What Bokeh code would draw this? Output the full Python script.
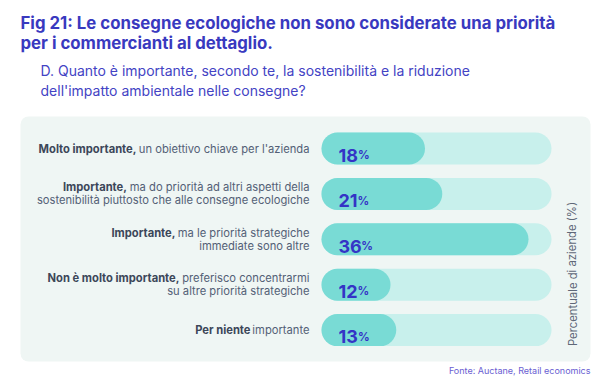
from bokeh.plotting import figure
from bokeh.models import Range1d, ColumnDataSource
from bokeh.core.properties import value
from bokeh.embed import file_html
from bokeh.resources import INLINE

# ---------------- data ----------------
title_lines = ["Fig 21: Le consegne ecologiche non sono considerate una priorità",
               "per i commercianti al dettaglio."]
subtitle_lines = ["D. Quanto è importante, secondo te, la sostenibilità e la riduzione",
                  "dell'impatto ambientale nelle consegne?"]
bold_parts = ["Molto importante,", "Importante,", "Importante,",
              "Non è molto importante,", "Per niente"]
rest_line1 = ["un obiettivo chiave per l'azienda",
              "ma do priorità ad altri aspetti della",
              "ma le priorità strategiche",
              "preferisco concentrarmi",
              "importante"]
rest_line2 = ["", "sostenibilità piuttosto che alle consegne ecologiche",
              "immediate sono altre", "su altre priorità strategiche", ""]
values = [18, 21, 36, 12, 13]
scale_max = 40
axis_label = "Percentuale di aziende (%)"
source_text = "Fonte: Auctane, Retail economics"

# ---------------- layout ----------------
W, H = 606, 380
X0 = 321          # pixel of 0 %
PX_PER = 5.75     # pixels per percent
Y0, STEP = 148, 45.4
BAR_H = 32
LABEL_RIGHT = 309
FONT = value("Inter")
LBL_SIZE = "11.2px"

def px(xp):
    return (xp - X0) / PX_PER

p = figure(width=W, height=H, output_backend="svg", toolbar_location=None,
           x_range=Range1d(px(0), px(W)), y_range=Range1d(H, 0),
           min_border=0, outline_line_color=None, background_fill_color="white",
           border_fill_color="white")
p.axis.visible = False
p.grid.visible = False

# panel
p.quad(left=[px(20)], right=[px(590)], top=[116], bottom=[361], border_radius=8,
       fill_color="#eff6f4", line_color=None)

ys = [Y0 + i * STEP for i in range(len(values))]
src = ColumnDataSource(dict(y=ys, v=values, full=[scale_max] * len(values)))

p.hbar(y="y", left=0, right="full", height=BAR_H, source=src,
       fill_color="#c8f0ec", line_color=None, border_radius=BAR_H // 2)
p.hbar(y="y", left=0, right="v", height=BAR_H, source=src,
       fill_color="#79dbd5", line_color=None, border_radius=BAR_H // 2)

# value labels
digit_w = {"1": 8.0, "2": 10.6, "3": 11.0, "6": 11.3, "8": 11.0}
num_left = 338
p.text(x=[px(num_left)] * len(values), y=[y + 6.7 for y in ys], text=[str(v) for v in values],
       text_font=FONT, text_font_size="18px", text_font_style="bold",
       text_color="#3434c6", text_baseline="alphabetic", text_align="left")
pct_x = [px(num_left + sum(digit_w.get(c, 10.8) for c in str(v)) + 0.5) for v in values]
p.text(x=pct_x, y=[y + 6.7 for y in ys], text=["%"] * len(values),
       text_font=FONT, text_font_size="11.5px", text_font_style="bold",
       text_color="#3434c6", text_baseline="alphabetic", text_align="left")

# category labels
bold_right = [136, 126.5, 175, 179, 250]
for i in range(len(values)):
    two = rest_line2[i] != ""
    y1 = ys[i] - 6.5 if two else ys[i]
    p.text(x=[px(LABEL_RIGHT)], y=[y1], text=[rest_line1[i]], text_font=FONT,
           text_font_size=LBL_SIZE, text_color="#536076", text_align="right",
           text_baseline="middle")
    p.text(x=[px(bold_right[i])], y=[y1], text=[bold_parts[i]], text_font=FONT,
           text_font_size=LBL_SIZE, text_font_style="bold", text_color="#3c4759",
           text_align="right", text_baseline="middle")
    if two:
        p.text(x=[px(LABEL_RIGHT)], y=[ys[i] + 6.5], text=[rest_line2[i]], text_font=FONT,
               text_font_size=LBL_SIZE, text_color="#536076", text_align="right",
               text_baseline="middle")

# axis label (vertical)
p.text(x=[px(572)], y=[273.5], text=[axis_label], angle=1.5708, text_font=FONT,
       text_font_size="11.3px", text_color="#5f6878", text_align="center",
       text_baseline="middle")

# titles
p.text(x=[px(20)] * 2, y=[22, 42], text=title_lines, text_font=FONT,
       text_font_size="16.8px", text_font_style="bold", text_color="#3939bf",
       text_align="left", text_baseline="middle")
p.text(x=[px(40)] * 2, y=[70, 89.5], text=subtitle_lines, text_font=FONT,
       text_font_size="14px", text_color="#4343c4",
       text_align="left", text_baseline="middle")

# source
p.text(x=[px(590)], y=[370], text=[source_text], text_font=FONT,
       text_font_size="9px", text_color="#6a60d2", text_align="right",
       text_baseline="middle")

open("out.html", "w").write(file_html(p, INLINE))
